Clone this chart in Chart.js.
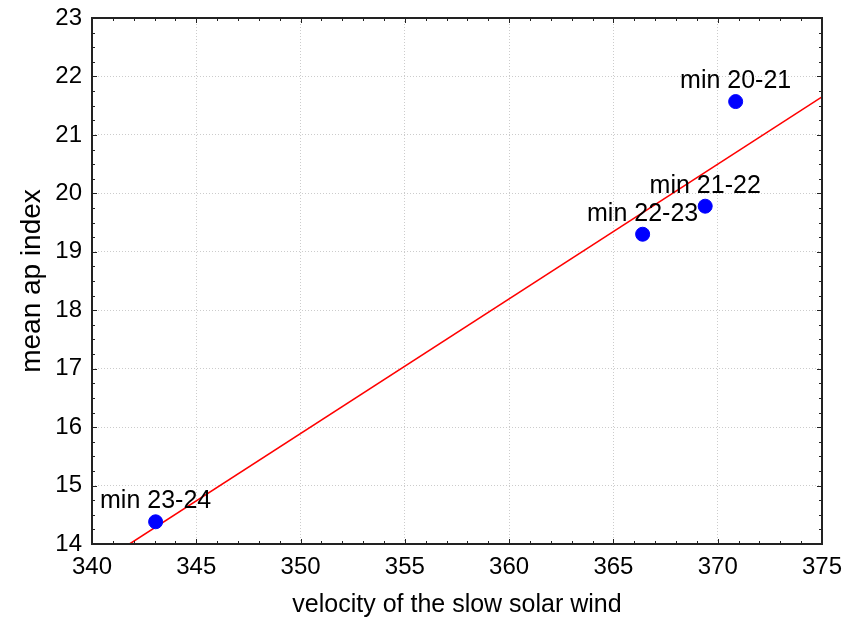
<!DOCTYPE html>
<html>
<head>
<meta charset="utf-8">
<script src="https://cdn.jsdelivr.net/npm/chart.js@4/dist/chart.umd.min.js"></script>
<style>
    body { margin: 0; background: #fff; }
    #wrap { width: 862px; height: 623px; }
</style>
</head>
<body>
<div id="wrap"><canvas id="graficoAp"></canvas></div>
<script>
//DATA
const minimaLabels = ['min 23-24', 'min 22-23', 'min 21-22', 'min 20-21'];
const windSpeed = [343.05, 366.4, 369.4, 370.86];
const apIndex = [14.38, 19.3, 19.78, 21.57];
const fitX = [341.8, 375];
const fitY = [14, 21.65];
const xTicks = [340, 345, 350, 355, 360, 365, 370, 375];
const yTicks = [14, 15, 16, 17, 18, 19, 20, 21, 22, 23];

const FONT = "'Liberation Sans', Arial, sans-serif";

//FRAME, MINOR TICKS, POINT LABELS
const framePlugin = {
    id: 'frame',
    afterDraw(chart) {
        const ctx = chart.ctx;
        const area = chart.chartArea;
        const xs = chart.scales.x;
        const ys = chart.scales.y;
        ctx.save();
        ctx.strokeStyle = '#222';
        ctx.lineWidth = 1;
        ctx.beginPath();
        for (let v = 340; v <= 375.001; v += 1) {
            let px = Math.round(xs.getPixelForValue(v)) + 0.5;
            let len = (Math.abs(v % 5) < 0.01) ? 5 : 3;
            ctx.moveTo(px, area.bottom); ctx.lineTo(px, area.bottom - len);
            ctx.moveTo(px, area.top); ctx.lineTo(px, area.top + len);
        }
        for (let v = 14; v <= 23.001; v += 0.25) {
            let py = Math.round(ys.getPixelForValue(v)) + 0.5;
            let len = (Math.abs(v % 1) < 0.01) ? 5 : 3;
            ctx.moveTo(area.left, py); ctx.lineTo(area.left + len, py);
            ctx.moveTo(area.right, py); ctx.lineTo(area.right - len, py);
        }
        ctx.stroke();
        ctx.lineWidth = 2;
        ctx.strokeRect(area.left, area.top, area.right - area.left, area.bottom - area.top);

        ctx.fillStyle = '#000';
        ctx.font = '25px ' + FONT;
        ctx.textAlign = 'center';
        ctx.textBaseline = 'bottom';
        minimaLabels.forEach((label, i) => {
            let px = xs.getPixelForValue(windSpeed[i]);
            let py = ys.getPixelForValue(apIndex[i]);
            ctx.fillText(label, px, py - 8);
        });
        ctx.restore();
    }
};

const graphicAp = document.getElementById('graficoAp');

const graphicForAp = new Chart(graphicAp, {
    type: 'scatter',
    data: {
        datasets: [{
            label: 'minima',
            data: windSpeed.map((v, i) => ({ x: v, y: apIndex[i] })),
            backgroundColor: '#0000ff',
            borderColor: '#0000ff',
            pointRadius: 7,
            pointHoverRadius: 7
        }, {
            type: 'line',
            label: 'fit',
            data: fitX.map((v, i) => ({ x: v, y: fitY[i] })),
            borderColor: '#ff0000',
            borderWidth: 1.5,
            pointRadius: 0,
            fill: false
        }]
    },
    options: {
        responsive: true,
        maintainAspectRatio: false,
        animation: false,
        layout: { padding: { top: 18, right: 40, left: 0, bottom: 0 } },
        plugins: {
            legend: { display: false },
            tooltip: { enabled: false }
        },
        scales: {
            x: {
                type: 'linear',
                min: 340,
                max: 375,
                afterBuildTicks: (scale) => { scale.ticks = xTicks.map(v => ({ value: v })); },
                afterFit: (scale) => { scale.height = 79; scale.paddingLeft = 0; scale.paddingRight = 0; },
                grid: { color: '#cccccc', drawTicks: false },
                border: { display: false, dash: [1, 2] },
                ticks: { color: '#000', padding: 9, font: { family: FONT, size: 24 } },
                title: {
                    display: true,
                    text: 'velocity of the slow solar wind',
                    color: '#000',
                    font: { family: FONT, size: 25 },
                    padding: { top: 0, bottom: 3 }
                }
            },
            y: {
                type: 'linear',
                min: 14,
                max: 23,
                afterBuildTicks: (scale) => { scale.ticks = yTicks.map(v => ({ value: v })); },
                afterFit: (scale) => { scale.width = 92; scale.paddingTop = 0; scale.paddingBottom = 0; },
                grid: { color: '#cccccc', drawTicks: false },
                border: { display: false, dash: [1, 2] },
                ticks: { color: '#000', padding: 10, font: { family: FONT, size: 24 } },
                title: {
                    display: true,
                    text: 'mean ap index',
                    color: '#000',
                    font: { family: FONT, size: 28 },
                    padding: { top: 15, bottom: 0 }
                }
            }
        }
    },
    plugins: [framePlugin]
});
</script>
</body>
</html>
